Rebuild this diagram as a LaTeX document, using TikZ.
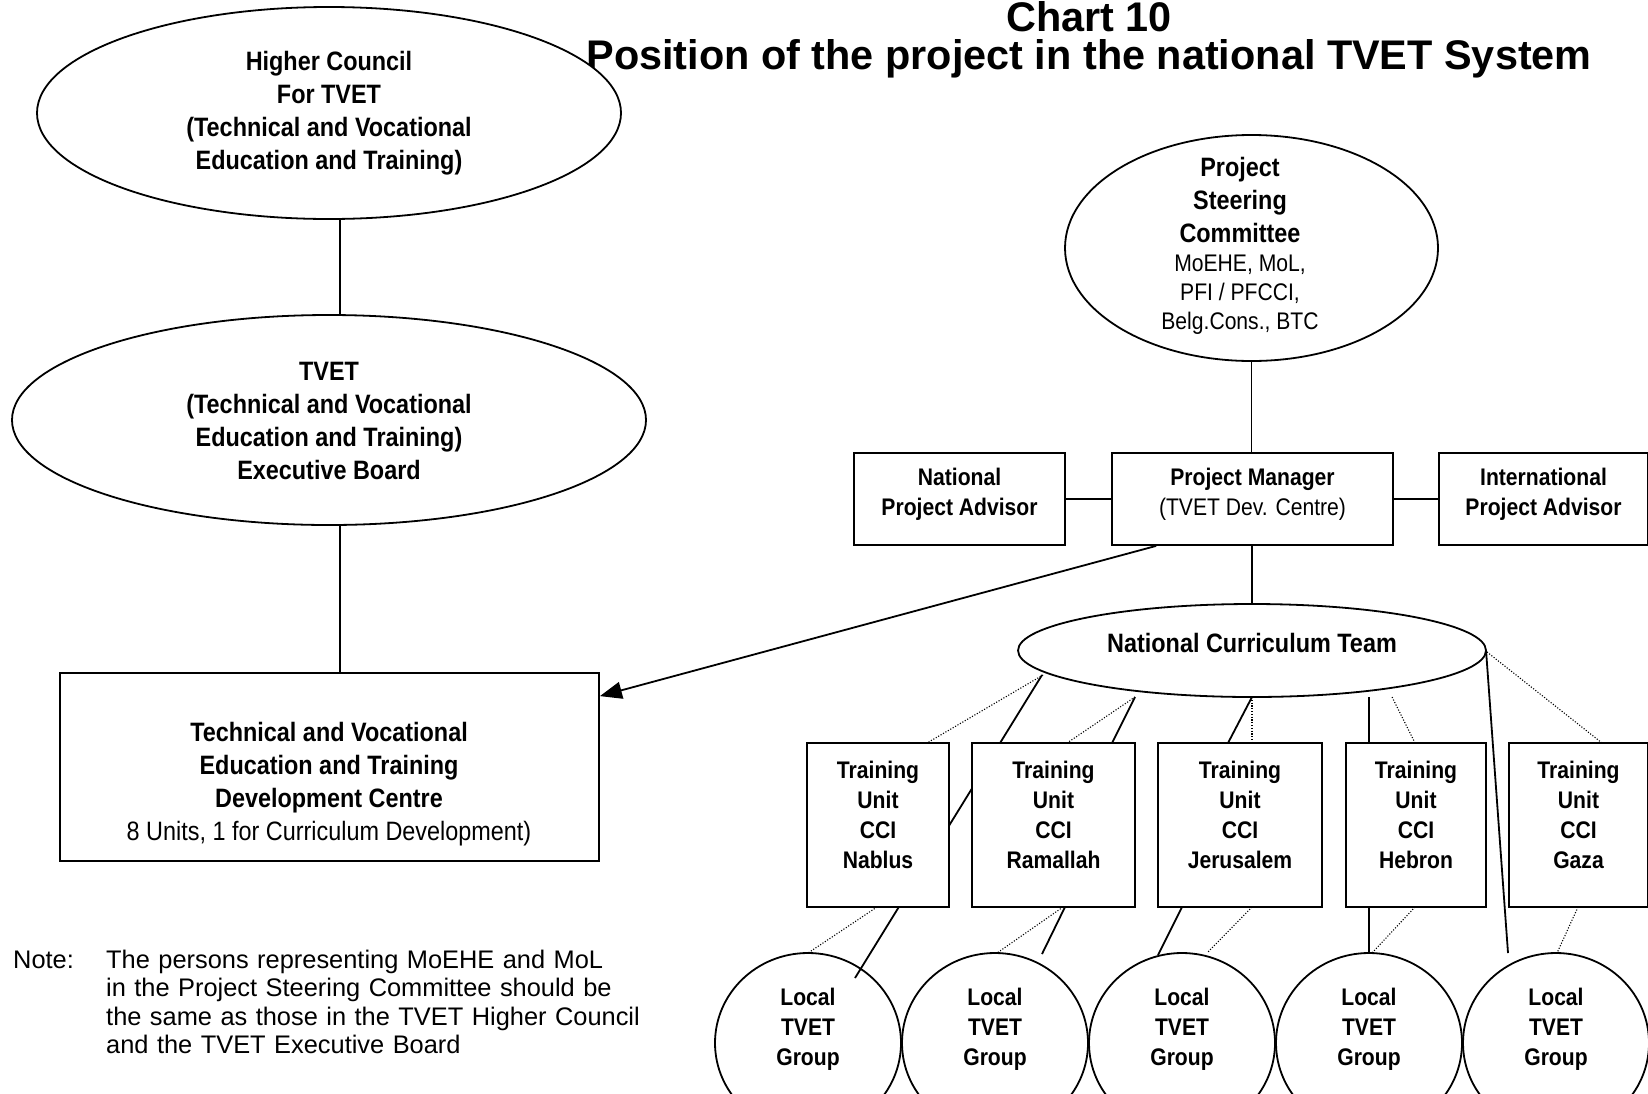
\documentclass[tikz,border=0pt]{standalone}
\usepackage{fontspec}
\setmainfont{Liberation Sans}
\newfontfamily\narrowsans[FakeStretch=0.88]{Liberation Sans}
\usetikzlibrary{shapes.geometric,arrows.meta}
\newcommand\fbigtxt{\narrowsans\fontsize{26.6pt}{33pt}\selectfont}
\newcommand\fmidtxt{\narrowsans\fontsize{24pt}{30pt}\selectfont}
\newcommand\fsmalltxt{\narrowsans\fontsize{24pt}{29pt}\selectfont}
\newcommand\fnotetxt{\fontsize{25.4pt}{28.5pt}\selectfont}
\newcommand\ftitletxt{\fontsize{41.4pt}{46pt}\selectfont\bfseries}
\tikzset{
  lnk/.style={line width=1.8pt},
  dotl/.style={line width=1.1pt, dash pattern=on 1.1pt off 1.7pt},
  bx/.style={draw, line width=1.8pt, fill=white, rectangle, inner sep=0pt},
  ov/.style={draw, line width=1.8pt, fill=white, ellipse, inner sep=0pt},
  txt/.style={align=center, inner sep=0pt},
  arr/.style={line width=1.8pt, -{Triangle[length=22pt,width=17pt]}},
}
\begin{document}
\begin{tikzpicture}[x=1pt,y=-1pt]
\useasboundingbox (0,0) rectangle (1648,1093);
\fill[white] (0,0) rectangle (1648,1093);
\clip (0,0) rectangle (1648,1093);

% title
\node[anchor=base, inner sep=0pt, font=\ftitletxt] (t1) at (1089,31) {Chart 10};
\node[anchor=base, inner sep=0pt, font=\ftitletxt] (t2) at (1089,69) {Position of the project in the national TVET System};

% left column
\node[ov, minimum width=584pt, minimum height=212pt] (hc) at (329,113) {};
\node[txt, font=\fbigtxt\bfseries] (hct) at (329,113) {Higher Council\\For TVET\\(Technical and Vocational\\Education and Training)};
\node[ov, minimum width=634pt, minimum height=210pt] (tv) at (329,420) {};
\node[txt, font=\fbigtxt\bfseries] (tvt) at (329,421) {TVET\\(Technical and Vocational\\Education and Training)\\Executive Board};
\node[bx, minimum width=539pt, minimum height=188pt] (tdc) at (329.5,767) {};
\node[txt, font=\fbigtxt] (tdct) at (329,784) {\textbf{Technical and Vocational}\\\textbf{Education and Training}\\\textbf{Development Centre}\\8 Units, 1 for Curriculum Development)};

\draw[lnk] ([xshift=11pt]hc.south) -- ([xshift=11pt]tv.north);
\draw[lnk] ([xshift=11pt]tv.south) -- ([xshift=10.5pt]tdc.north);

% right column
\node[ov, minimum width=373pt, minimum height=226pt] (psc) at (1251.5,248) {};
\node[txt, font=\fbigtxt\bfseries] (psct) at (1240,200) {Project\\Steering\\Committee};
\node[txt, font=\fsmalltxt] (pscm) at (1240,295) {MoEHE, MoL,\\PFI / PFCCI,\\Belg.Cons., BTC};

\node[bx, minimum width=211pt, minimum height=92pt] (npa) at (959.5,499) {};
\node[txt, font=\fmidtxt\bfseries] (npat) at (959.5,494) {National\\Project Advisor};
\node[bx, minimum width=281pt, minimum height=92pt] (pm) at (1252.5,499) {};
\node[txt, font=\fmidtxt] (pmt) at (1252.5,494) {\textbf{Project Manager}\\(TVET Dev. Centre)};
\node[bx, minimum width=209pt, minimum height=92pt] (ipa) at (1543.5,499) {};
\node[txt, font=\fmidtxt\bfseries] (ipat) at (1543.5,494) {International\\Project Advisor};

\draw[lnk] (psc.south) -- (psc.south |- pm.north);
\draw[lnk] (npa.east) -- (pm.west);
\draw[lnk] (pm.east) -- (ipa.west);

\node[ov, minimum width=468pt, minimum height=93pt] (nct) at (1252,650.5) {};
\node[txt, font=\fbigtxt\bfseries] (nctt) at (1252,643) {National Curriculum Team};
\draw[lnk] (pm.south -| nct.north) -- (nct.north);

\draw[arr] ([xshift=45pt]pm.south west) -- ([yshift=-24pt]tdc.north east);

% local groups
\foreach \i/\cx in {1/808,2/995,3/1182,4/1369,5/1556}{
  \node[ov, minimum width=186pt, minimum height=180pt] (lg\i) at (\cx,1043) {};
  \node[txt, font=\fmidtxt\bfseries, text depth=0pt] (lgt\i) at (\cx,1027) {Local\\TVET\\Group};
}

% connector end points
\coordinate (a1) at (1043,675);  \coordinate (a2) at (927,743);
\coordinate (b1) at (1042,675);  \coordinate (b2) at (855,978);
\coordinate (c1) at (1135,697);  \coordinate (c2) at (1067,743);
\coordinate (d1) at (1135,697);  \coordinate (d2) at (1112,743);
\coordinate (e1) at (1252,697);  \coordinate (e2) at (1228,743);
\coordinate (f1) at (1252,697);  \coordinate (f2) at (1252,743);
\coordinate (g1) at (1369,697);  \coordinate (g2) at (1369,953);
\coordinate (h1) at (1392,697);  \coordinate (h2) at (1415,743);
\coordinate (i1) at (1486,650);  \coordinate (i2) at (1508,953);
\coordinate (j1) at (1487,652);  \coordinate (j2) at (1602,743);
\coordinate (k1) at (877,907);   \coordinate (k2) at (808,953);
\coordinate (m1) at (1063,907);  \coordinate (m2) at (997,953);
\coordinate (n1) at (1065,907);  \coordinate (n2) at (1042,954);
\coordinate (o1) at (1182,907);  \coordinate (o2) at (1158,955);
\coordinate (p1) at (1252,907);  \coordinate (p2) at (1207,953);
\coordinate (r1) at (1415,907);  \coordinate (r2) at (1372,953);
\coordinate (s1) at (1578,907);  \coordinate (s2) at (1557,953);

\draw[dotl] (a1) -- (a2);
\draw[lnk]  (b1) -- (b2);
\draw[dotl] (c1) -- (c2);
\draw[lnk]  (d1) -- (d2);
\draw[lnk]  (e1) -- (e2);
\draw[dotl] (f1) -- (f2);
\draw[lnk]  (g1) -- (g2);
\draw[dotl] (h1) -- (h2);
\draw[lnk]  (i1) -- (i2);
\draw[dotl] (j1) -- (j2);
\draw[dotl] (k1) -- (k2);
\draw[dotl] (m1) -- (m2);
\draw[lnk]  (n1) -- (n2);
\draw[lnk]  (o1) -- (o2);
\draw[dotl] (p1) -- (p2);
\draw[dotl] (r1) -- (r2);
\draw[dotl] (s1) -- (s2);

% training units
\foreach \i/\cx/\w/\city in {1/878/142/Nablus,2/1053.5/163/Ramallah,3/1240/164/Jerusalem,4/1416/140/Hebron,5/1578.5/139/Gaza}{
  \node[bx, minimum width=\w pt, minimum height=164pt] (tu\i) at (\cx,825) {};
  \node[txt, font=\fmidtxt\bfseries] (tut\i) at (\cx,815) {Training\\Unit\\CCI\\\city};
}

% note
\node[anchor=base west, inner sep=0pt, font=\fnotetxt] (notelbl) at (13,968) {Note:};
\node[anchor=base west, inner sep=0pt, text width=560pt, align=left, font=\fnotetxt] (note) at (106,968) {The persons representing MoEHE and MoL\\in the Project Steering Committee should be\\the same as those in the TVET Higher Council\\and the TVET Executive Board};
\end{tikzpicture}
\end{document}
